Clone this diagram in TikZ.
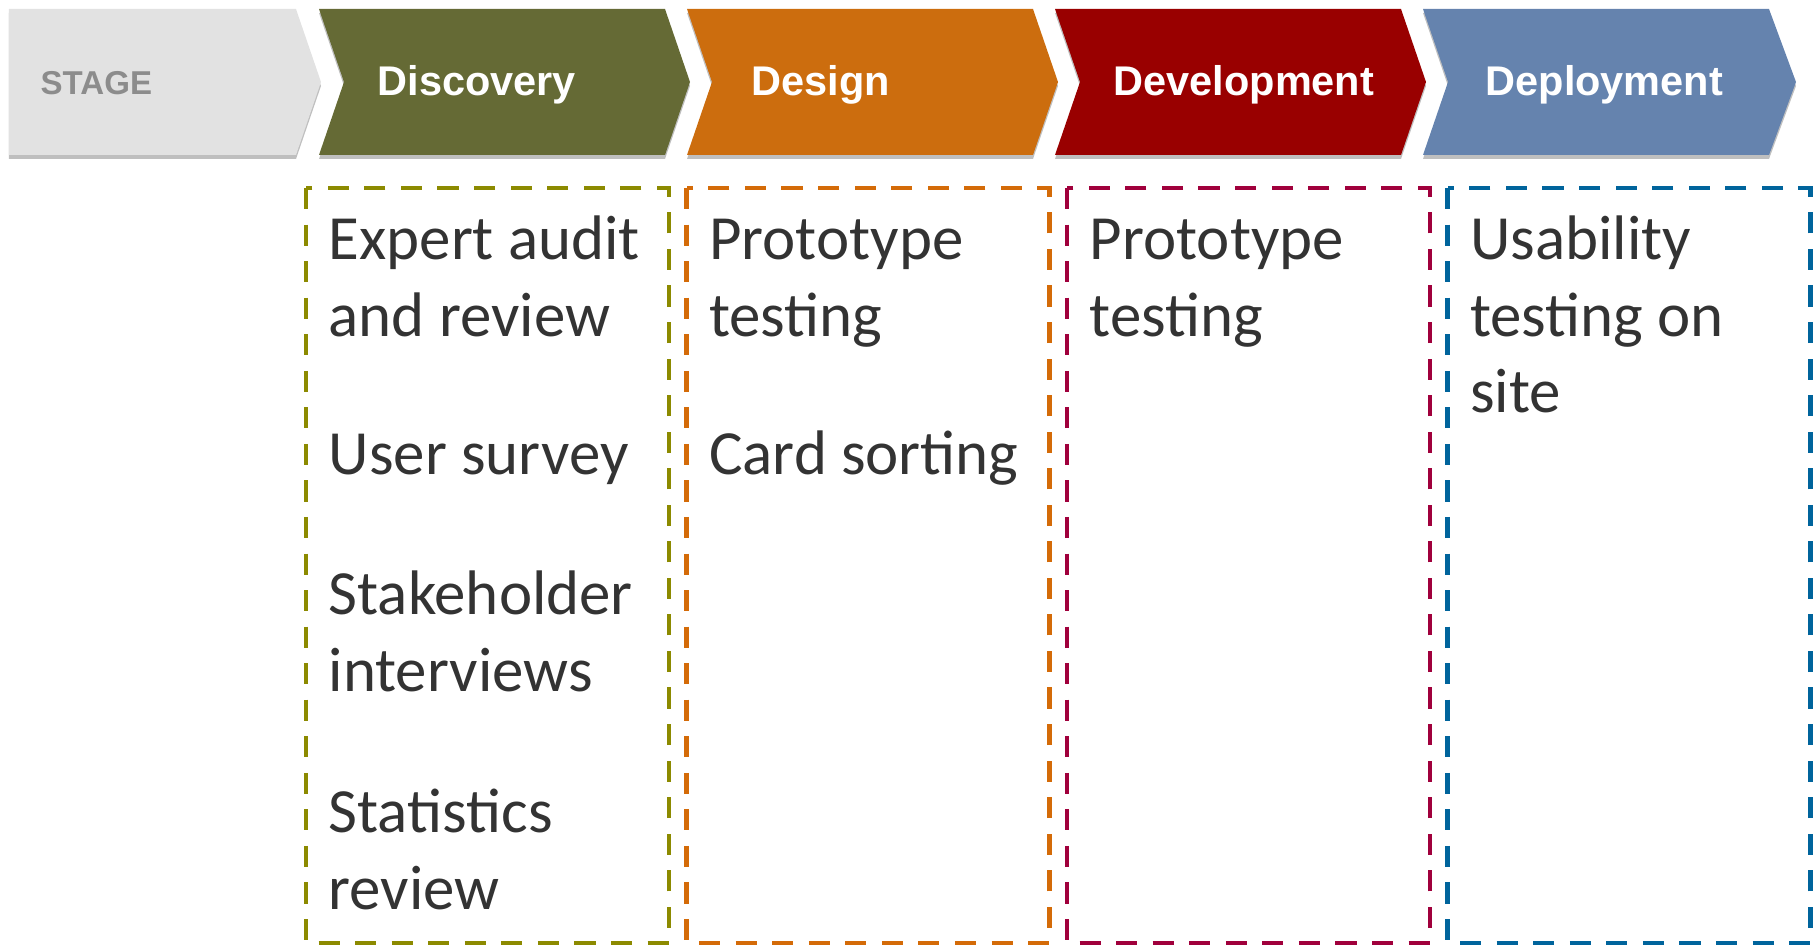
\documentclass[tikz,border=0pt]{standalone}
\usepackage{fontspec}
\setmainfont{Carlito}
\newfontfamily\headfont{Liberation Sans}
\usepackage{tikz}

\definecolor{stagegray}{HTML}{E2E2E2}
\definecolor{stagetext}{HTML}{8C8C8C}
\definecolor{discol}{HTML}{656A35}
\definecolor{descol}{HTML}{CC6D0E}
\definecolor{devcol}{HTML}{990000}
\definecolor{depcol}{HTML}{6583AE}
\definecolor{discbox}{HTML}{8C8A00}
\definecolor{desbox}{HTML}{D46B08}
\definecolor{devbox}{HTML}{A0003C}
\definecolor{depbox}{HTML}{00649C}
\definecolor{itemtext}{HTML}{333333}

\begin{document}
\begin{tikzpicture}[
  chevshadow/.style={fill=black,opacity=0.25},
  chevtext/.style={anchor=base west,inner sep=0pt,text=white,font=\headfont\bfseries\fontsize{11.8pt}{14pt}\selectfont},
  stagebox/.style={line width=1.2pt,dash pattern=on 6pt off 4.4pt},
  item/.style={anchor=base west,inner sep=0pt,align=left,text=itemtext,font=\fontsize{17.9pt}{21.8pt}\selectfont}]
\useasboundingbox (0,0) rectangle (18.18,-9.47);

% stage header
\fill[chevshadow] (0.09,-0.13) -- (2.96,-0.13) -- (3.21,-0.86) -- (2.96,-1.59) -- (0.09,-1.59) -- cycle;
\fill[stagegray] (0.09,-0.09) -- (2.96,-0.09) -- (3.21,-0.82) -- (2.96,-1.55) -- (0.09,-1.55) -- cycle;
\node[chevtext,text=stagetext,font=\headfont\bfseries\fontsize{9.4pt}{11pt}\selectfont] (stage) at (0.40,-0.95) {STAGE};

\fill[chevshadow] (3.19,-0.13) -- (6.65,-0.13) -- (6.90,-0.86) -- (6.65,-1.59) -- (3.19,-1.59) -- (3.44,-0.86) -- cycle;
\fill[discol] (3.19,-0.09) -- (6.65,-0.09) -- (6.90,-0.82) -- (6.65,-1.55) -- (3.19,-1.55) -- (3.44,-0.82) -- cycle;
\node[chevtext] (discovery) at (3.77,-0.96) {Discovery};

\fill[chevshadow] (6.87,-0.13) -- (10.33,-0.13) -- (10.58,-0.86) -- (10.33,-1.59) -- (6.87,-1.59) -- (7.12,-0.86) -- cycle;
\fill[descol] (6.87,-0.09) -- (10.33,-0.09) -- (10.58,-0.82) -- (10.33,-1.55) -- (6.87,-1.55) -- (7.12,-0.82) -- cycle;
\node[chevtext] (design) at (7.51,-0.96) {Design};

\fill[chevshadow] (10.55,-0.13) -- (14.01,-0.13) -- (14.26,-0.86) -- (14.01,-1.59) -- (10.55,-1.59) -- (10.80,-0.86) -- cycle;
\fill[devcol] (10.55,-0.09) -- (14.01,-0.09) -- (14.26,-0.82) -- (14.01,-1.55) -- (10.55,-1.55) -- (10.80,-0.82) -- cycle;
\node[chevtext] (development) at (11.13,-0.96) {Development};

\fill[chevshadow] (14.23,-0.13) -- (17.69,-0.13) -- (17.96,-0.86) -- (17.69,-1.59) -- (14.23,-1.59) -- (14.48,-0.86) -- cycle;
\fill[depcol] (14.23,-0.09) -- (17.69,-0.09) -- (17.96,-0.82) -- (17.69,-1.55) -- (14.23,-1.55) -- (14.48,-0.82) -- cycle;
\node[chevtext] (deployment) at (14.85,-0.96) {Deployment};

% methods per stage (base anchor sits on the last line)
\draw[stagebox,discbox] (3.06,-1.88) rectangle (6.69,-9.43);
\node[item] (audit) at (3.28,-3.365) {Expert audit\\and review};
\node[item] (survey) at (3.28,-4.75) {User survey};
\node[item] (interviews) at (3.28,-6.91) {Stakeholder\\interviews};
\node[item] (statistics) at (3.28,-9.09) {Statistics\\review};

\draw[stagebox,desbox] (6.865,-1.88) rectangle (10.495,-9.43);
\node[item] (protodes) at (7.085,-3.365) {Prototype\\testing};
\node[item] (cards) at (7.085,-4.75) {Card sorting};

\draw[stagebox,devbox] (10.67,-1.88) rectangle (14.30,-9.43);
\node[item] (protodev) at (10.89,-3.365) {Prototype\\testing};

\draw[stagebox,depbox] (14.475,-1.88) rectangle (18.105,-9.43);
\node[item] (usability) at (14.695,-4.13) {Usability\\testing on\\site};
\end{tikzpicture}
\end{document}
